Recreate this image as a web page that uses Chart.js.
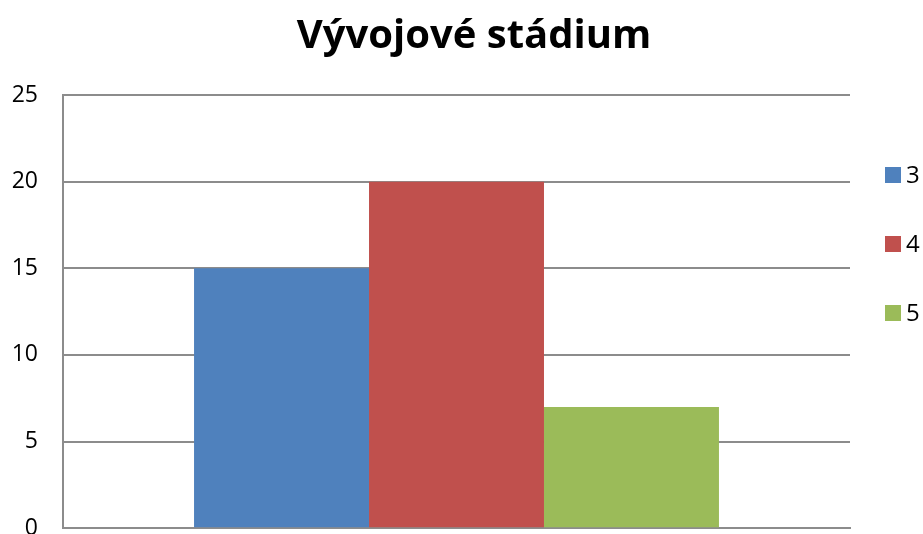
<!DOCTYPE html>
<html>
<head>
<meta charset="utf-8">
<script src="https://cdn.jsdelivr.net/npm/chart.js@4"></script>
<style>
  html, body { margin: 0; padding: 0; background: #fff; }
  #wrap { width: 923px; height: 534px; overflow: hidden; }
</style>
</head>
<body>
<div id="wrap"><canvas id="chart" width="923" height="567"></canvas></div>
<script>
const chartTitle = "Vývojové stádium"
const categories = [""]
const seriesNames = ["3", "4", "5"]
const seriesValues = [[15], [20], [7]]
const seriesColors = ["#4F81BD", "#C0504D", "#9BBB59"]
const yTicks = [0, 5, 10, 15, 20, 25]

const FONT = "'Open Sans', 'Noto Sans', sans-serif"

// title and side legend are drawn by hand so they sit where Excel put them
const decorations = {
  id: "decorations",
  afterDraw(chart) {
    const ctx = chart.ctx
    ctx.save()
    ctx.fillStyle = "#000"
    ctx.font = "bold 40px " + FONT
    ctx.textAlign = "center"
    ctx.textBaseline = "middle"
    ctx.fillText(chartTitle, 474, 37)

    ctx.font = "24px " + FONT
    ctx.textAlign = "left"
    chart.data.datasets.forEach((ds, i) => {
      const y = 175 + i * 69
      ctx.fillStyle = ds.backgroundColor
      ctx.fillRect(885, y - 8, 16, 16)
      ctx.fillStyle = "#000"
      ctx.fillText(ds.label, 906, y + 1)
    })
    ctx.restore()
  },
}

const ctx = document.getElementById("chart").getContext("2d")
new Chart(ctx, {
  type: "bar",
  data: {
    labels: categories,
    datasets: seriesNames.map((name, i) => ({
      label: name,
      data: seriesValues[i],
      backgroundColor: seriesColors[i],
      borderWidth: 0,
      categoryPercentage: 0.667,
      barPercentage: 1.0,
    })),
  },
  options: {
    responsive: false,
    animation: false,
    layout: { padding: { top: 95, right: 73, bottom: 17, left: 0 } },
    plugins: {
      legend: { display: false },
      title: { display: false },
      tooltip: { enabled: false },
    },
    scales: {
      x: {
        grid: { display: false, drawTicks: false },
        border: { display: true, color: "#8c8c8c", width: 2 },
        ticks: { display: false },
        afterFit(scale) { scale.height = 0 },
      },
      y: {
        min: 0,
        max: 25,
        afterBuildTicks(scale) { scale.ticks = yTicks.map((v) => ({ value: v })) },
        grid: { color: "#8c8c8c", lineWidth: 2, drawTicks: false },
        border: { display: true, color: "#8c8c8c", width: 2 },
        ticks: {
          padding: 25,
          color: "#000",
          font: { family: FONT, size: 23 },
        },
        afterFit(scale) { scale.width = 63 },
      },
    },
  },
  plugins: [decorations],
})
</script>
</body>
</html>
